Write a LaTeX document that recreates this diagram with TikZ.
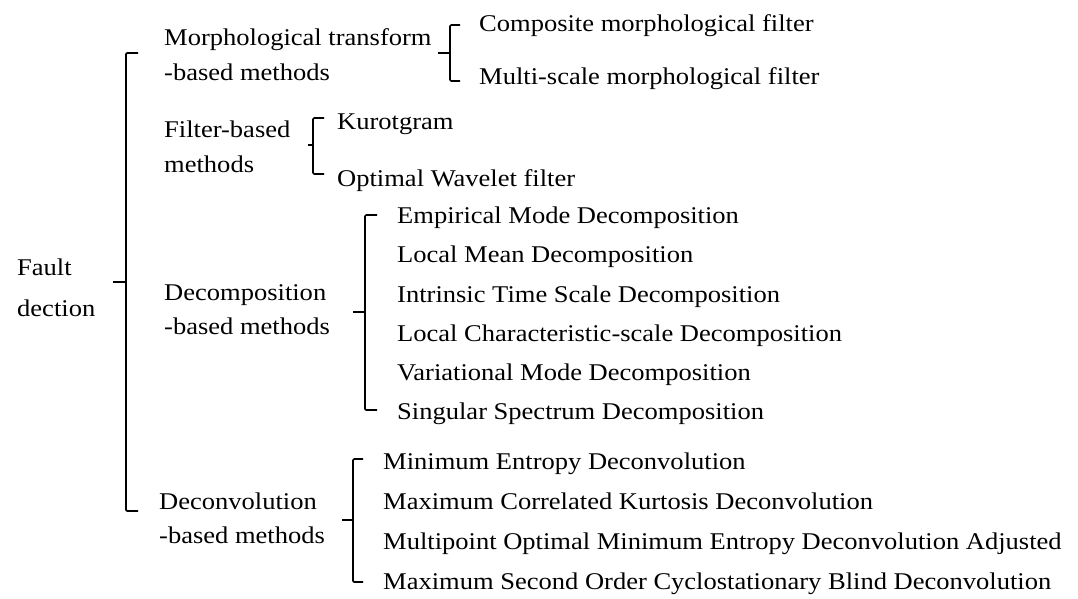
\documentclass[tikz,border=0pt]{standalone}
\usepackage{fontspec}
\setmainfont[FakeStretch=1.105]{Liberation Serif}
\begin{document}
\begin{tikzpicture}[x=1pt,y=-1pt,
  lbl/.style={anchor=base west,inner sep=0pt,font=\fontsize{24}{24}\selectfont},
  brk/.style={line width=1.7pt,line cap=butt,line join=round,rounded corners=1.2pt}]
\useasboundingbox (0,0) rectangle (1078,599);
\newcommand{\bracketat}[7]{% x, top, mid, bottom, right tick, left tick, name
  \coordinate (#7t) at (#1,#2);
  \coordinate (#7m) at (#1,#3);
  \coordinate (#7b) at (#1,#4);
  \draw[brk] ([xshift=#5pt]#7t) -- (#7t) -- (#7b) -- ([xshift=#5pt]#7b);
  \draw[brk] (#7m) -- ([xshift=-#6pt]#7m);
}
% root
\node[lbl] (f1) at (17,275) {Fault};
\node[lbl] (f2) at (17,316) {dection};
\bracketat{126}{53}{282}{511}{12}{13}{B0}
% morphological
\node[lbl] (m1) at (164,46) {Morphological transform};
\node[lbl] (m2) at (164,81) {-based methods};
\bracketat{450}{25}{53}{81}{10}{12}{B1}
\node[lbl] (m3) at (479,32) {Composite morphological filter};
\node[lbl] (m4) at (479,85) {Multi-scale morphological filter};
% filter
\node[lbl] (fb1) at (164,137) {Filter-based};
\node[lbl] (fb2) at (164,172) {methods};
\bracketat{313}{118}{145}{174}{11}{5}{B2}
\node[lbl] (k1) at (337,129) {Kurotgram};
\node[lbl] (k2) at (337,186) {Optimal Wavelet filter};
% decomposition
\node[lbl] (d1) at (164,300) {Decomposition};
\node[lbl] (d2) at (164,334) {-based methods};
\bracketat{365}{215}{312}{410}{12}{12}{B3}
\node[lbl] (e1) at (397,223) {Empirical Mode Decomposition};
\node[lbl] (e2) at (397,262) {Local Mean Decomposition};
\node[lbl] (e3) at (397,302) {Intrinsic Time Scale Decomposition};
\node[lbl] (e4) at (397,341) {Local Characteristic-scale Decomposition};
\node[lbl] (e5) at (397,380) {Variational Mode Decomposition};
\node[lbl] (e6) at (397,419) {Singular Spectrum Decomposition};
% deconvolution
\node[lbl] (c1) at (159,509) {Deconvolution};
\node[lbl] (c2) at (159,543) {-based methods};
\bracketat{353}{459}{520}{582}{10}{11}{B4}
\node[lbl] (g1) at (383,469) {Minimum Entropy Deconvolution};
\node[lbl] (g2) at (383,509) {Maximum Correlated Kurtosis Deconvolution};
\node[lbl] (g3) at (383,549) {Multipoint Optimal Minimum Entropy Deconvolution Adjusted};
\node[lbl] (g4) at (383,589) {Maximum Second Order Cyclostationary Blind Deconvolution};
\end{tikzpicture}
\end{document}
